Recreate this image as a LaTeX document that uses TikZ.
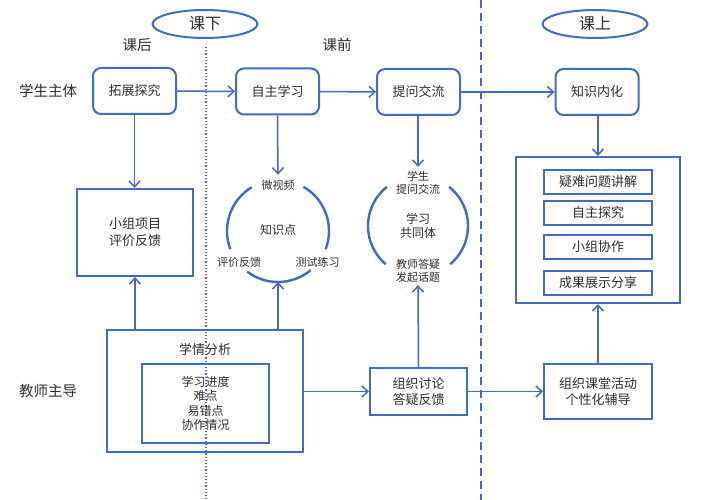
\documentclass[tikz,border=0pt]{standalone}
\usepackage{fontspec}
\setmainfont{Noto Sans CJK SC}
\usetikzlibrary{arrows.meta,shapes.geometric}
\definecolor{bl}{RGB}{66,108,184}
\definecolor{tx}{RGB}{45,45,45}
\begin{document}
\begin{tikzpicture}[x=1pt,y=-1pt,
  every node/.style={text=tx, font=\fontsize{13}{15}\selectfont, inner sep=0pt},
  rbox/.style={draw=bl, line width=2pt, rounded corners=8pt, minimum width=83pt, minimum height=46pt},
  sbox/.style={draw=bl, line width=2pt},
  oval/.style={draw=bl, line width=2pt, ellipse, minimum width=105pt, minimum height=28pt, font=\fontsize{16}{18}\selectfont},
  lbl/.style={font=\fontsize{14.5}{16}\selectfont},
  small/.style={font=\fontsize{11}{13.5}\selectfont, align=center, inner sep=1pt},
  arr/.style={draw=bl, line width=1.5pt, -{Straight Barb[length=6pt,width=11pt,line width=1.5pt]}},
  ringarc/.style={draw=bl, line width=2.4pt},
]
\useasboundingbox[fill=white] (0,0) rectangle (709,500);

% separators
\draw[bl, line width=1.2pt, dotted] (206,47) -- (206,500);
\draw[bl, line width=1.5pt, dash pattern=on 8pt off 5pt] (481,0) -- (481,500);

% headers
\node[oval] (kx) at (205,24) {课下};
\node[oval] (ks) at (595,24) {课上};
\node[lbl] (kh) at (137,45) {课后};
\node[lbl] (kq) at (337,45) {课前};
\node[lbl] (xs) at (48,91) {学生主体};
\node[lbl] (js) at (48,391) {教师主导};

% student row
\node[rbox] (tz) at (134.5,91) {拓展探究};
\node[rbox] (zz) at (277.5,91.5) {自主学习};
\node[rbox] (tw) at (418.5,92) {提问交流};
\node[rbox] (zs) at (597,92) {知识内化};

\node[sbox, minimum width=116pt, minimum height=87pt, align=center, font=\fontsize{13}{17}\selectfont] (xz) at (135,232.5) {小组项目\\评价反馈};

% left ring
\node[small] (wsp) at (278,185) {微视频};
\node[font=\fontsize{12}{14}\selectfont] (zsd) at (278,230) {知识点};
\node[small] (pj) at (239,262) {评价反馈};
\node[small] (cs) at (317.5,262) {测试练习};
\draw[ringarc] (278,231) ++(-121:51) arc[start angle=-121, end angle=-201, radius=51];
\draw[ringarc] (278,231) ++(-60:51) arc[start angle=-60, end angle=21, radius=51];
\draw[ringarc] (278,231) ++(127:51) arc[start angle=127, end angle=50, radius=51];
\coordinate (lcb) at (278,282);

% right ring
\node[small] (xstw) at (418,183) {学生\\提问交流};
\node[font=\fontsize{12}{14}\selectfont, align=center] (xxgt) at (418,226) {学习\\共同体};
\node[small] (jsdy) at (418,271) {教师答疑\\发起话题};
\draw[ringarc] (418,226) ++(-128.5:50) arc[start angle=-128.5, end angle=-229.8, radius=50];
\draw[ringarc] (418,226) ++(-51.5:50) arc[start angle=-51.5, end angle=49.8, radius=50];

% right activity box
\node[sbox, minimum width=164pt, minimum height=146pt] (hd) at (598,230) {};
\node[sbox, minimum width=108pt, minimum height=24pt] (yn) at (598,182) {疑难问题讲解};
\node[sbox, minimum width=108pt, minimum height=24pt] (zztj) at (598,213) {自主探究};
\node[sbox, minimum width=108pt, minimum height=24pt] (xzxz) at (598,247) {小组协作};
\node[sbox, minimum width=108pt, minimum height=24pt] (cg) at (598,282.5) {成果展示分享};

% teacher row
\node[sbox, minimum width=196pt, minimum height=122pt] (xq) at (205,391) {};
\node (xqt) at (205,350) {学情分析};
\node[sbox, minimum width=127pt, minimum height=79pt, align=center, font=\fontsize{12}{14.5}\selectfont] (xqn) at (205.5,403.5) {学习进度\\难点\\易错点\\协作情况};
\node[sbox, minimum width=97pt, minimum height=47pt, align=center, font=\fontsize{13}{16}\selectfont] (zt) at (418.5,391.5) {组织讨论\\答疑反馈};
\node[sbox, minimum width=108pt, minimum height=55pt, align=center, font=\fontsize{13}{16}\selectfont] (zk) at (598,391.5) {组织课堂活动\\个性化辅导};

% connectors
\draw[arr] (tz) -- (zz);
\draw[arr] (zz) -- (tw);
\draw[arr] (tw) -- (zs);
\draw[arr] (tz.south) -- (tz.south |- xz.north);
\draw[arr] (xq.north -| xz.south) -- (xz.south);
\draw[arr, shorten >=4pt] (zz.south) -- (wsp.north);
\draw[arr] (xq.north -| lcb) -- (lcb);
\draw[arr, shorten >=3pt] (tw.south -| xstw.north) -- (xstw.north);
\draw[arr, shorten >=1pt] (zt.north) -- (jsdy.south);
\draw[arr] (zs.south -| hd.north) -- (hd.north);
\draw[arr] (zk.north) -- (hd.south);
\draw[arr] (xq.east |- zt.west) -- (zt.west);
\draw[arr] (zt) -- (zk);
\end{tikzpicture}
\end{document}
